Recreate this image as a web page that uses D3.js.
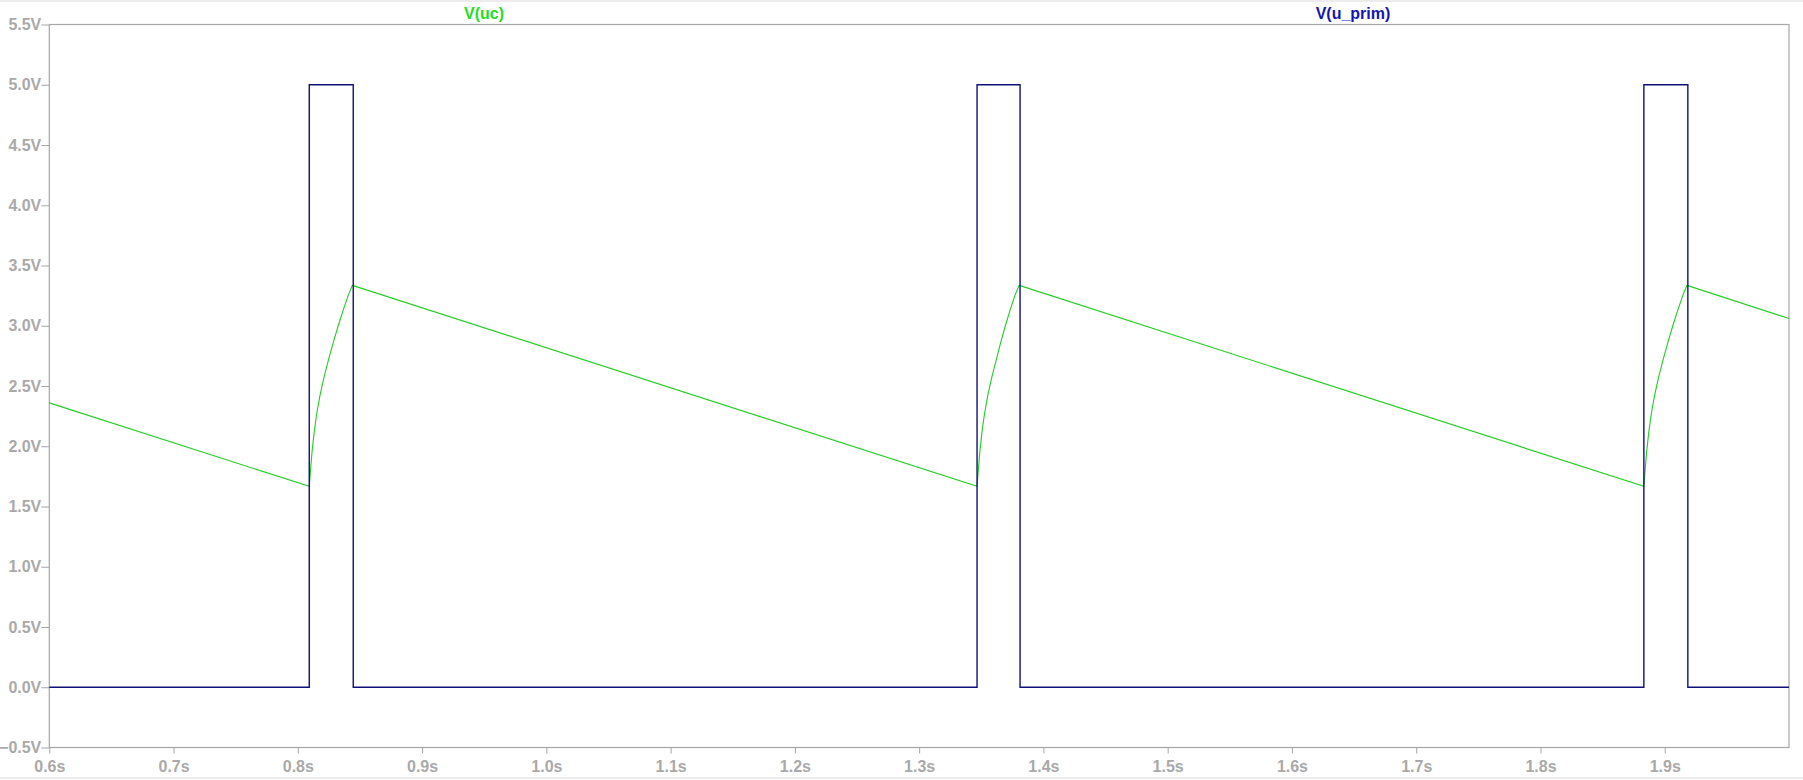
<!DOCTYPE html>
<html>
<head>
<meta charset="utf-8">
<script src="https://cdn.jsdelivr.net/npm/d3@7"></script>
<style>
  html, body { margin: 0; padding: 0; background: #fff; }
  svg { display: block; }
  text { font-family: "Liberation Sans", Arial, sans-serif; font-weight: bold; }
</style>
</head>
<body>
<svg id="chart" width="1803" height="780"></svg>
<script>
// ---- data ----
const seriesNames = ["V(uc)", "V(u_prim)"];
const xTicks = [0.6, 0.7, 0.8, 0.9, 1.0, 1.1, 1.2, 1.3, 1.4, 1.5, 1.6, 1.7, 1.8, 1.9];
const yTicks = [-0.5, 0.0, 0.5, 1.0, 1.5, 2.0, 2.5, 3.0, 3.5, 4.0, 4.5, 5.0, 5.5];

// V(uc): time (s)
const ucTime = [
  0.6, 0.8092,
  0.8102, 0.8115, 0.8132, 0.8152, 0.8178, 0.8210, 0.8245, 0.8285, 0.8325, 0.8365, 0.8405, 0.8438, 0.8446,
  1.3466,
  1.3476, 1.3489, 1.3506, 1.3526, 1.3552, 1.3584, 1.3619, 1.3656, 1.3694, 1.3732, 1.3770, 1.3804, 1.3812,
  1.8832,
  1.8842, 1.8855, 1.8872, 1.8892, 1.8918, 1.8950, 1.8985, 1.9025, 1.9065, 1.9105, 1.9145, 1.9178, 1.9186,
  2.0
];
// V(uc): voltage (V)
const ucVolt = [
  2.36, 1.667,
  1.80, 1.96, 2.12, 2.27, 2.42, 2.57, 2.71, 2.86, 3.00, 3.13, 3.25, 3.333, 3.333,
  1.667,
  1.80, 1.96, 2.12, 2.27, 2.42, 2.57, 2.71, 2.86, 3.00, 3.13, 3.25, 3.333, 3.333,
  1.667,
  1.80, 1.96, 2.12, 2.27, 2.42, 2.57, 2.71, 2.86, 3.00, 3.13, 3.25, 3.333, 3.333,
  3.06
];

// V(u_prim): square pulses
const primTime = [0.6, 0.8092, 0.8092, 0.8446, 0.8446, 1.3466, 1.3466, 1.3812, 1.3812, 1.8832, 1.8832, 1.9186, 1.9186, 2.0];
const primVolt = [0,   0,      5,      5,      0,      0,      5,      5,      0,      0,      5,      5,      0,      0];

// ---- layout ----
const svg = d3.select("#chart");
const pL = 49.3, pR = 1789, pT = 24.5, pB = 747.5;
const x = d3.scaleLinear().domain([0.6, 2.0]).range([pL, pR]);
const y = d3.scaleLinear().domain([-0.5, 5.5]).range([pB, pT]);
const axisGrey = "#a6a6a6";
const labelGrey = "#a9a9a9";

// window borders
svg.append("line").attr("x1", 0).attr("x2", 1803).attr("y1", 1).attr("y2", 1)
  .attr("stroke", "#e6e6e6").attr("stroke-width", 1.5);
svg.append("line").attr("x1", 0).attr("x2", 1803).attr("y1", 778).attr("y2", 778)
  .attr("stroke", "#e6e6e6").attr("stroke-width", 1.5);

// axes
const yAxis = d3.axisLeft(y).tickValues(yTicks).tickSize(8).tickPadding(0)
  .tickFormat(d => d3.format(".1f")(d) + "V");
const gy = svg.append("g").attr("transform", `translate(${pL},0)`).call(yAxis);
gy.select(".domain").remove();
gy.selectAll("line").attr("stroke", axisGrey);
gy.selectAll("text").attr("fill", labelGrey).attr("font-size", 16)
  .attr("font-family", "'Liberation Sans', Arial, sans-serif").attr("font-weight", "bold");

const xAxis = d3.axisBottom(x).tickValues(xTicks).tickSize(6).tickPadding(7)
  .tickFormat(d => d3.format(".1f")(d) + "s");
const gx = svg.append("g").attr("transform", `translate(0,${pB})`).call(xAxis);
gx.select(".domain").remove();
gx.selectAll("line").attr("stroke", axisGrey);
gx.selectAll("text").attr("fill", labelGrey).attr("font-size", 16)
  .attr("font-family", "'Liberation Sans', Arial, sans-serif").attr("font-weight", "bold");

// frame
svg.append("rect").attr("x", pL).attr("y", pT)
  .attr("width", pR - pL).attr("height", pB - pT)
  .attr("fill", "none").attr("stroke", axisGrey).attr("stroke-width", 1.2);

// traces
const line = d3.line().x(d => x(d[0])).y(d => y(d[1]));
const ucData = ucTime.map((t, i) => [t, ucVolt[i]]);
const primData = primTime.map((t, i) => [t, primVolt[i]]);

svg.append("path").datum(ucData).attr("d", line)
  .attr("fill", "none").attr("stroke", "#22cc22").attr("stroke-width", 1.1);
svg.append("path").datum(primData).attr("d", line)
  .attr("fill", "none").attr("stroke", "#10107a").attr("stroke-width", 1.4);

// trace labels
svg.append("text").attr("x", 484).attr("y", 19).attr("text-anchor", "middle")
  .attr("font-size", 16).attr("fill", "#22dd22").text(seriesNames[0]);
svg.append("text").attr("x", 1353).attr("y", 19).attr("text-anchor", "middle")
  .attr("font-size", 16).attr("fill", "#1414b4").text(seriesNames[1]);
</script>
</body>
</html>
